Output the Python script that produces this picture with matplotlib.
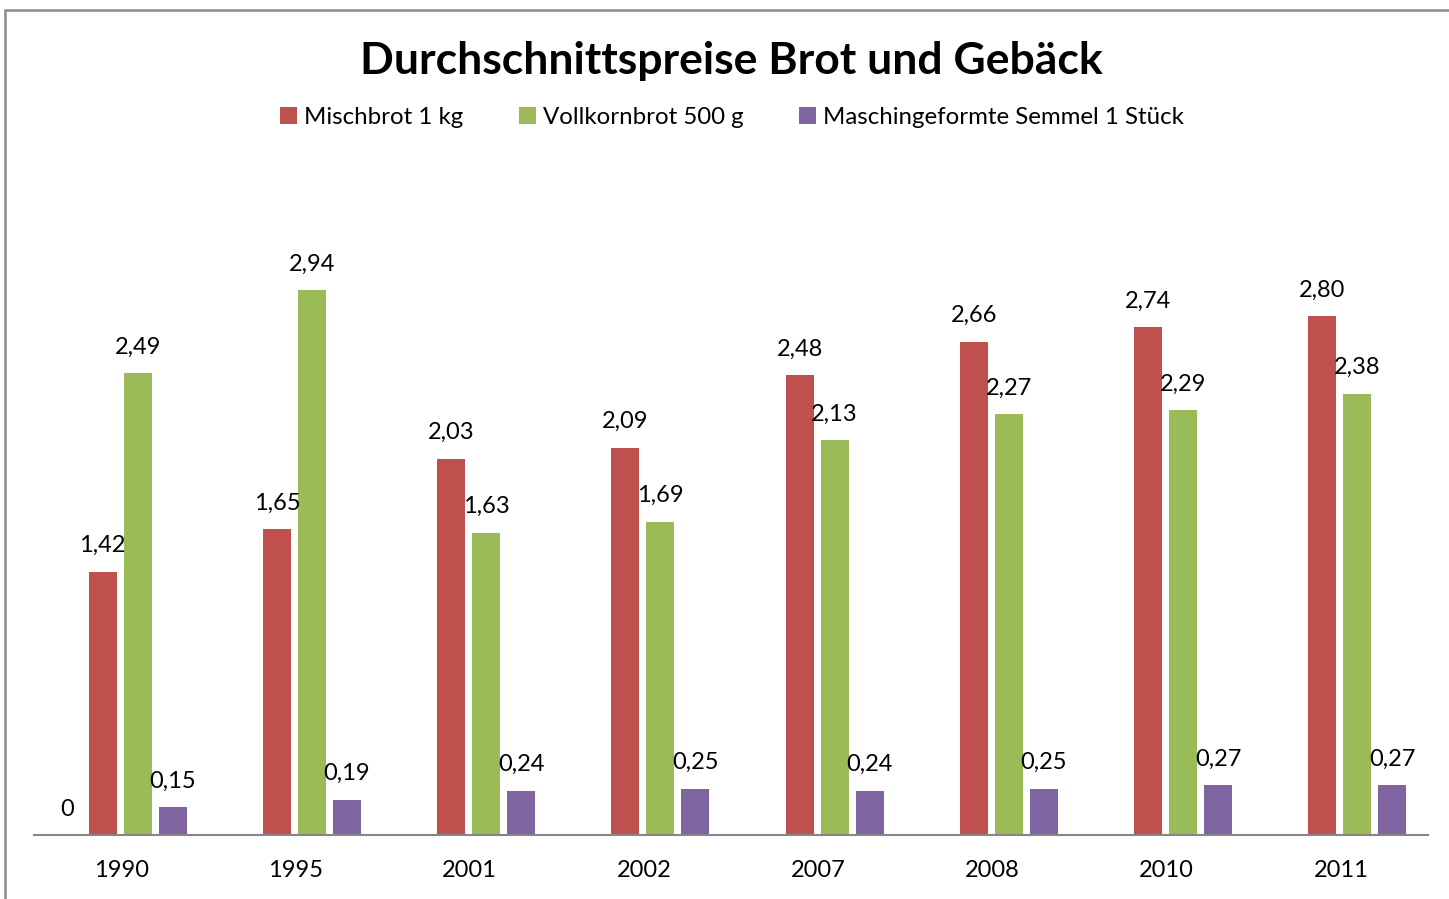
import matplotlib.pyplot as plt
from matplotlib.patches import Rectangle
import numpy as np

plt.rcParams['font.family'] = ['Lato', 'DejaVu Sans']

years = ['1990', '1995', '2001', '2002', '2007', '2008', '2010', '2011']
mischbrot = [1.42, 1.65, 2.03, 2.09, 2.48, 2.66, 2.74, 2.80]
vollkorn = [2.49, 2.94, 1.63, 1.69, 2.13, 2.27, 2.29, 2.38]
semmel = [0.15, 0.19, 0.24, 0.25, 0.24, 0.25, 0.27, 0.27]
# unnamed first series, only a 0 in 1990
hidden = [0, None, None, None, None, None, None, None]

series = [
    (hidden, None, None),
    (mischbrot, 'Mischbrot 1 kg', '#C0504D'),
    (vollkorn, 'Vollkornbrot 500 g', '#9BBB59'),
    (semmel, 'Maschingeformte Semmel 1 Stück', '#8064A2'),
]

W, H = 1449, 899
fig = plt.figure(figsize=(W / 100, H / 100), dpi=100)

# axes placed in pixel terms
left, right, bottom = 34, 1428, 835
ymax = 3.5
px_per_unit = 185.4
top = bottom - ymax * px_per_unit
ax = fig.add_axes([left / W, 1 - bottom / H, (right - left) / W, (bottom - top) / H])

x = np.arange(len(years))
step = 35 / 174.2
width = 28 / 174.2

for i, (vals, name, color) in enumerate(series):
    offs = (i - 1.5) * step - 1 / 174.2
    for j, v in enumerate(vals):
        if v is None:
            continue
        ax.bar(x[j] + offs, v, width, color=color if color else 'none',
               label=name if j == 0 and name else None)
        txt = '0' if v == 0 else f'{v:.2f}'.replace('.', ',')
        ax.annotate(txt, (x[j] + offs, v), xytext=(0, 26), textcoords='offset pixels',
                    ha='center', va='center', fontsize=17, color='black')

ax.set_xlim(-0.5, len(years) - 0.5)
ax.set_ylim(0, ymax)
ax.set_xticks(x)
ax.set_xticklabels(years, fontsize=17)
ax.tick_params(axis='x', length=0, pad=18)
ax.set_yticks([])
for s in ['top', 'right', 'left']:
    ax.spines[s].set_visible(False)
ax.spines['bottom'].set_color('#868686')
ax.spines['bottom'].set_linewidth(1.5)

fig.text(731 / W, 1 - 61 / H, 'Durchschnittspreise Brot und Gebäck',
         ha='center', va='center', fontsize=32, fontweight='bold')

fig.legend(loc='center', bbox_to_anchor=(732 / W, 1 - 117 / H), ncol=3, frameon=False,
           fontsize=17.3, handlelength=0.7, handleheight=0.7, handletextpad=0.3,
           columnspacing=2.3)

# outer chart border
fig.patches.append(Rectangle((4.5 / W, -0.05), 1.1, 1 - 9.5 / H + 0.05,
                             transform=fig.transFigure, fill=False,
                             edgecolor='#8c8c8c', linewidth=1.8))

fig.savefig('out.png', dpi=100)
